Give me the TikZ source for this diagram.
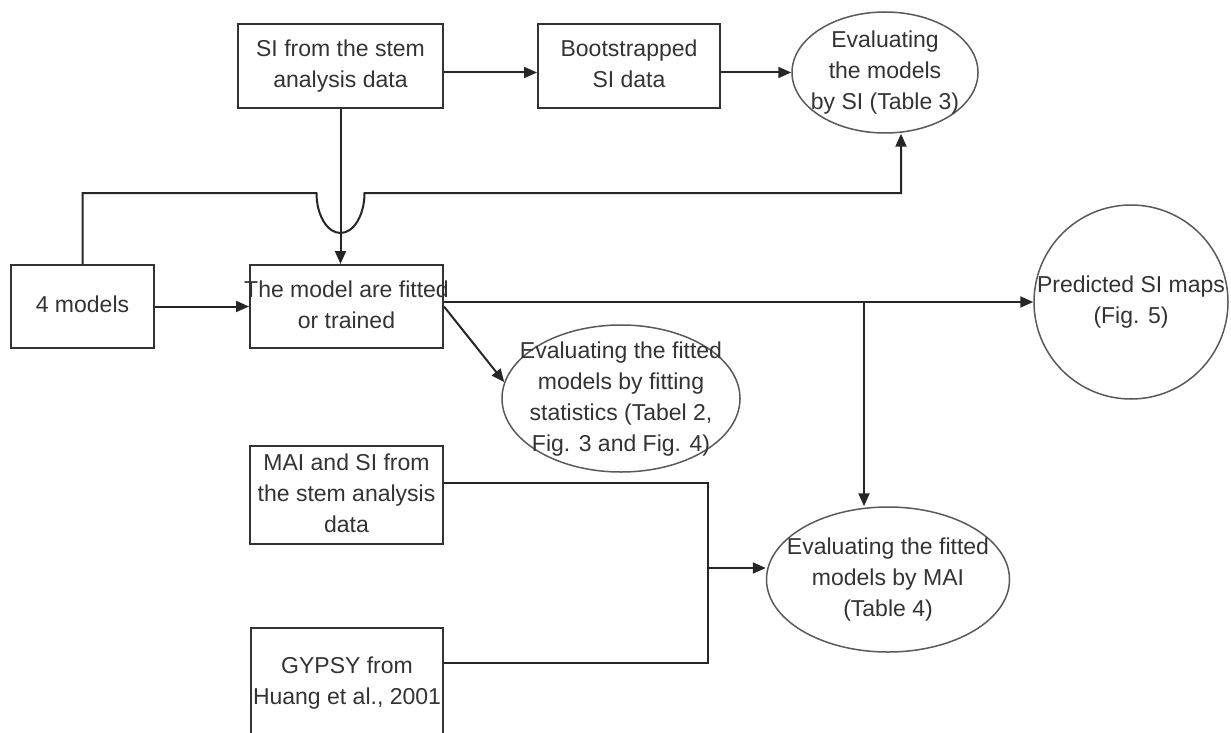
\documentclass[tikz,border=0pt]{standalone}
\usepackage{fontspec}
\setmainfont{Liberation Sans}
\usetikzlibrary{arrows.meta,shapes.geometric}
% text that does not push the shape bigger
\newcommand{\fitin}[1]{\raisebox{-2.9pt}[0pt][0pt]{\makebox[0pt]{\begin{tabular}{@{}c@{}}#1\end{tabular}}}}
\begin{document}
\begin{tikzpicture}[x=0.5pt, y=-0.5pt,
  every node/.style={font=\fontsize{11.5}{15.5}\selectfont, text=black!80, inner sep=0pt},
  box/.style={draw=black!80, line width=1pt, rectangle},
  ell/.style={draw=black!65, line width=0.75pt, ellipse},
  arrow/.style={draw=black!85, line width=1pt, -{Triangle[length=6.5pt,width=5.5pt]}},
  link/.style={draw=black!85, line width=1pt}]
  \useasboundingbox (0,0) rectangle (1231,733);
  \clip (0,0) rectangle (1231,733);
  % Draw the boxes and ellipses
  \node[box, minimum width=102.5pt, minimum height=42pt] (si) at (340.5,66) {\fitin{SI from the stem\\analysis data}};
  \node[box, minimum width=91pt, minimum height=42pt] (boot) at (629,66) {\fitin{Bootstrapped\\SI data}};
  \node[ell, minimum width=93pt, minimum height=60.5pt] (evalSI) at (885,72.5) {\fitin{Evaluating\\the models\\by SI (Table 3)}};
  \node[box, minimum width=71.5pt, minimum height=41.5pt] (m4) at (82.5,306.5) {\fitin{4 models}};
  \node[box, minimum width=96.5pt, minimum height=41.5pt] (fit) at (346.5,306.5) {\fitin{The model are fitted\\or trained}};
  \node[draw=black!65, line width=0.75pt, circle, minimum size=97pt] (pred) at (1131,302) {\fitin{Predicted SI maps\\(Fig. 5)}};
  \node[ell, minimum width=119pt, minimum height=73.5pt] (fitstat) at (621,398.5) {\fitin{Evaluating the fitted\\models by fitting\\statistics (Tabel 2,\\Fig. 3 and Fig. 4)}};
  \node[box, minimum width=96.5pt, minimum height=49pt] (mai) at (346.5,495) {\fitin{MAI and SI from\\the stem analysis\\data}};
  \node[box, minimum width=96pt, minimum height=55pt] (gyp) at (347,683) {\fitin{GYPSY from\\Huang et al., 2001}};
  \node[ell, minimum width=121.5pt, minimum height=72.5pt] (evalMAI) at (888,579.5) {\fitin{Evaluating the fitted\\models by MAI\\(Table 4)}};
  % Turning points of the connectors
  \coordinate (hop) at (si.south |- 0,193);
  \coordinate (up) at (901,193);
  \coordinate (jA) at (864,302);
  \coordinate (jB) at (708,568);
  % Draw the connectors
  \draw[arrow] (si.east |- evalSI.west) -- (boot.west |- evalSI.west);
  \draw[arrow] (boot.east |- evalSI.west) -- (evalSI.west);
  \draw[arrow] (si.south) -- (fit.north -| si.south);
  \draw[arrow] (m4.north) |- ([xshift=-12pt]hop) arc[start angle=180, end angle=360, x radius=12pt, y radius=20pt] -- (up) -- (up |- evalSI.south);
  \draw[arrow] (m4.east) -- (fit.west);
  \draw[arrow] (fit.east |- pred.west) -- (pred.west);
  \draw[arrow] (jA) -- (jA |- evalMAI.north);
  \draw[arrow] (fit.east) -- (fitstat.172);
  \draw[link] ([yshift=6pt]mai.east) -| (jB);
  \draw[link] ([yshift=10pt]gyp.east) -| (jB);
  \draw[arrow] (jB) -- (jB -| evalMAI.west);
\end{tikzpicture}
\end{document}
